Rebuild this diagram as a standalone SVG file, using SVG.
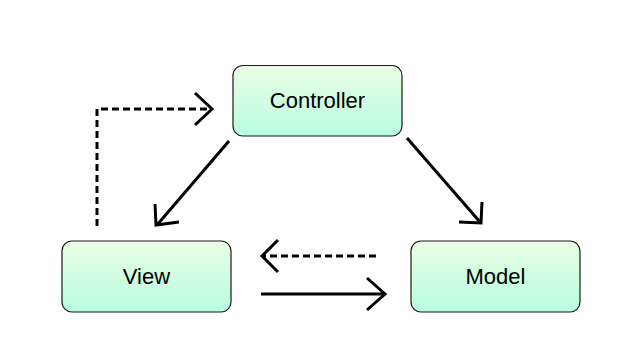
<svg xmlns="http://www.w3.org/2000/svg" width="636" height="360" viewBox="0 0 636 360">
<defs>
<linearGradient id="g" x1="0" y1="0" x2="0" y2="1">
<stop offset="0" stop-color="#e9fde4"/>
<stop offset="1" stop-color="#b9fde0"/>
</linearGradient>
<style>
.box{fill:url(#g);stroke:#1a1a1a;stroke-width:1.2}
.lbl{font-family:"Liberation Sans",Arial,sans-serif;font-size:22px;fill:#000;text-anchor:middle}
.ln{fill:none;stroke:#000;stroke-width:3;stroke-linecap:butt;stroke-linejoin:miter}
.dash{stroke-dasharray:7 4}
</style>
</defs>
<rect width="636" height="360" fill="#fff"/>
<g id="controller">
<rect class="box" x="233" y="65.5" width="169" height="70.5" rx="10"/>
<text class="lbl" x="317.5" y="108">Controller</text>
</g>
<g id="view">
<rect class="box" x="62" y="241" width="169" height="71" rx="10"/>
<text class="lbl" x="146.5" y="284">View</text>
</g>
<g id="model">
<rect class="box" x="411" y="241" width="169" height="71" rx="10"/>
<text class="lbl" x="495.5" y="284">Model</text>
</g>
<g id="connectors">
<path class="ln dash" d="M97 226 V109 H209"/>
<path class="ln" d="M195 93 L212 109 L195 125"/>
<path class="ln" d="M229 141 L157 225"/>
<path class="ln" d="M155 204 L156 225 L179 222"/>
<path class="ln" d="M407 138 L480 222"/>
<path class="ln" d="M459 222 L481 223 L482 202"/>
<path class="ln dash" d="M376 256 H264"/>
<path class="ln" d="M278 240 L262 256 L278 272"/>
<path class="ln" d="M261 294 H383"/>
<path class="ln" d="M367 278 L385 294 L367 310"/>
</g>
</svg>
